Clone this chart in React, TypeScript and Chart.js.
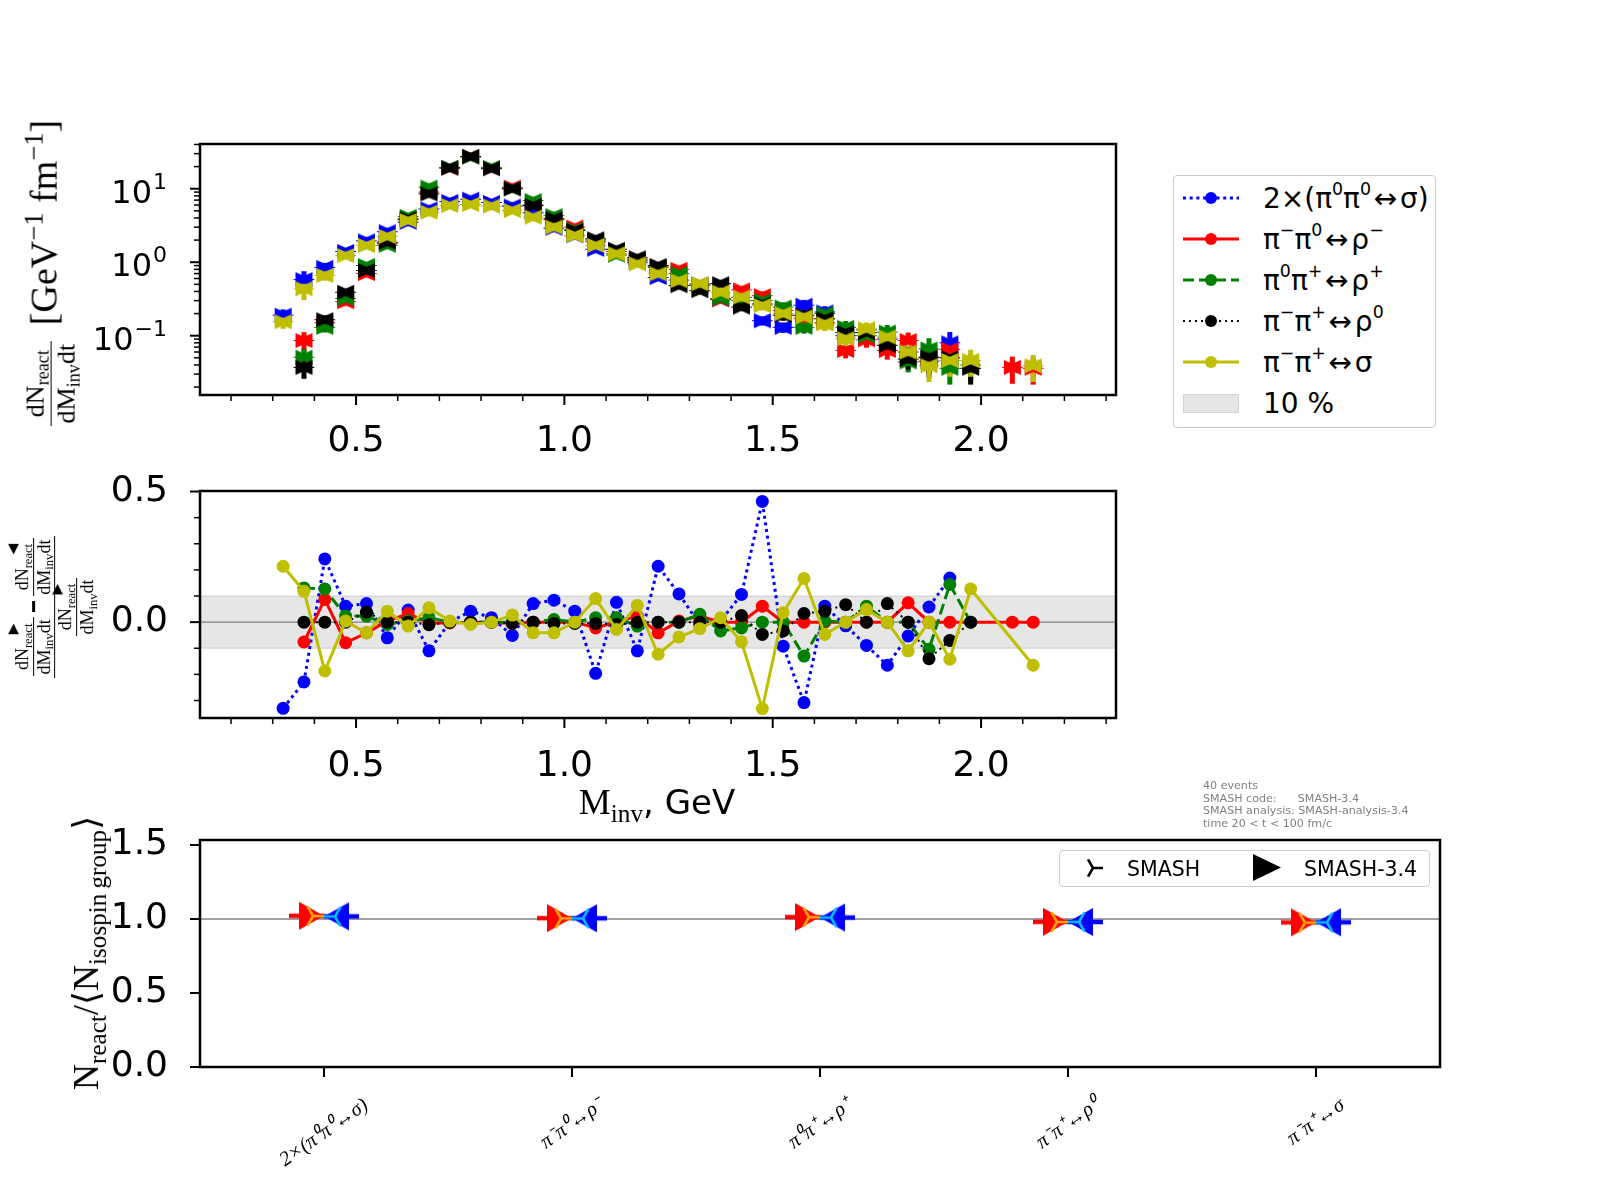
import React, { useEffect, useRef } from 'react';
import { Chart, registerables } from 'chart.js';

Chart.register(...registerables);

// invariant mass bin centres [GeV]
const massBins = [
  0.325, 0.375, 0.425, 0.475, 0.525, 0.575, 0.625, 0.675, 0.725, 0.775,
  0.825, 0.875, 0.925, 0.975, 1.025, 1.075, 1.125, 1.175, 1.225, 1.275,
  1.325, 1.375, 1.425, 1.475, 1.525, 1.575, 1.625, 1.675, 1.725, 1.775,
  1.825, 1.875, 1.925, 1.975, 2.025, 2.075, 2.125,
];
const binHalfWidth = 0.025;

const reactionNames = ['2×(π^0π^0↔σ)', 'π^−π^0↔ρ^−', 'π^0π^+↔ρ^+', 'π^−π^+↔ρ^0', 'π^−π^+↔σ'];

// dN/dM dt per reaction
const rateSigma00 = [0.19, 0.58, 0.85, 1.4, 1.95, 2.6, 3.5, 5.3, 6.7, 7.2, 6.5, 5.8, 4.7, 2.9, 2.3, 1.5, 1.3, 1.0, 0.62, 0.57, 0.5, 0.31, 0.33, 0.16, 0.13, 0.26, 0.21, 0.1, 0.12, 0.09, 0.06, 0.045, 0.08, null, null, null, null];
const rateRhoMinus = [null, 0.086, 0.15, 0.29, 0.7, 1.8, 3.8, 9.0, 19, 27.5, 19, 10.5, 6.0, 3.8, 3.0, 1.9, 1.4, 1.1, 0.88, 0.8, 0.5, 0.31, 0.42, 0.35, 0.22, 0.17, 0.15, 0.063, 0.088, 0.063, 0.086, 0.05, 0.065, null, null, 0.037, 0.036];
const rateRhoPlus = [null, 0.051, 0.13, 0.32, 0.9, 1.7, 4.2, 10.5, 19.5, 27, 19.5, 10, 6.9, 4.3, 2.8, 2.0, 1.25, 1.05, 0.85, 0.7, 0.48, 0.32, 0.3, 0.3, 0.245, 0.13, 0.2, 0.13, 0.1, 0.112, 0.044, 0.066, 0.036, 0.04, null, null, null];
const rateRho0 = [null, 0.037, 0.165, 0.39, 0.77, 1.87, 3.9, 8.5, 19.2, 27.4, 18.7, 10, 5.9, 3.9, 2.7, 2.08, 1.5, 1.15, 0.9, 0.48, 0.41, 0.51, 0.245, 0.27, 0.19, 0.19, 0.17, 0.11, 0.11, 0.074, 0.048, 0.051, 0.05, 0.036, null, null, null];
const rateSigmaPm = [0.155, 0.435, 0.66, 1.23, 1.69, 2.24, 3.69, 4.79, 5.9, 6.1, 5.8, 5.05, 4.1, 3.0, 2.31, 1.69, 1.3, 0.95, 0.695, 0.56, 0.51, 0.39, 0.335, 0.257, 0.2, 0.18, 0.145, 0.091, 0.124, 0.096, 0.06, 0.039, 0.046, 0.046, null, null, 0.039];
const rateRelErr = [0.2, 0.3, 0.15, 0.1, 0.07, 0.05, 0.04, 0.04, 0.03, 0.03, 0.03, 0.04, 0.04, 0.04, 0.04, 0.05, 0.05, 0.05, 0.06, 0.06, 0.07, 0.08, 0.1, 0.14, 0.16, 0.18, 0.2, 0.22, 0.22, 0.25, 0.28, 0.4, 0.4, 0.4, 0.4, 0.4, 0.4];

// (forward - backward) / forward
const asymSigma00 = [-0.33, -0.229, 0.242, 0.061, 0.071, -0.06, 0.046, -0.11, 0.0, 0.042, 0.017, -0.051, 0.071, 0.084, 0.042, -0.196, 0.076, -0.11, 0.214, 0.108, -0.01, 0.005, 0.106, 0.462, -0.092, -0.308, 0.061, -0.014, -0.089, -0.165, -0.053, 0.058, 0.169, null, null, null, null];
const asymRhoMinus = [null, -0.076, 0.087, -0.079, -0.041, 0.004, 0.033, -0.003, -0.003, 0, 0, -0.005, 0, 0, 0, -0.022, 0, 0.023, -0.041, 0.004, 0.023, 0, 0, 0.061, 0, 0, 0, 0, 0, 0, 0.074, 0, 0, null, null, 0, 0];
const asymRhoPlus = [null, 0.131, 0.127, 0.023, 0.023, -0.009, 0.004, 0.017, 0, 0, 0, 0, 0, 0.01, 0, 0.017, 0.017, -0.015, 0, 0, 0.03, -0.034, -0.022, 0, 0, -0.13, 0.004, 0, 0.061, 0, 0, -0.104, 0.144, 0, null, null, null];
const asymRho0 = [null, 0, 0, 0, 0.038, 0, 0, -0.01, 0, 0, 0, -0.005, 0, -0.005, -0.005, -0.005, -0.009, 0, 0, 0, 0, 0, 0.025, -0.047, -0.034, 0.033, 0.042, 0.067, 0, 0.071, 0, -0.14, -0.07, 0, null, null, null];
const asymSigmaPm = [0.214, 0.118, -0.187, 0.004, -0.041, 0.042, -0.015, 0.055, 0.004, -0.009, 0, 0.027, -0.041, -0.041, 0, 0.09, -0.028, 0.064, -0.123, -0.057, -0.025, 0.017, -0.075, -0.331, 0.036, 0.167, -0.047, 0, 0.048, 0, -0.11, 0, -0.142, 0.127, null, null, -0.165];
const bandHalfWidth = 0.1;

// N_react / <N_isospin group>
const yieldFwd34 = [1.022, 1.006, 1.013, 0.981, 0.977];
const yieldBwd34 = [1.018, 1.005, 1.01, 0.98, 0.978];
const yieldFwdSmash = [1.02, 1.004, 1.012, 0.98, 0.976];
const yieldBwdSmash = [1.017, 1.004, 1.01, 0.981, 0.977];
const yieldRef = 1.0;

// ticks
const massTicks = [0.2, 0.3, 0.4, 0.5, 0.6, 0.7, 0.8, 0.9, 1.0, 1.1, 1.2, 1.3, 1.4, 1.5, 1.6, 1.7, 1.8, 1.9, 2.0, 2.1, 2.2, 2.3];
const massLabels = [0.5, 1.0, 1.5, 2.0];
const rateTicks = [0.02, 0.03, 0.04, 0.05, 0.06, 0.07, 0.08, 0.09, 0.1, 0.2, 0.3, 0.4, 0.5, 0.6, 0.7, 0.8, 0.9, 1, 2, 3, 4, 5, 6, 7, 8, 9, 10, 20, 30, 40];
const rateLabels = [0.1, 1, 10];
const asymTicks = [-0.3, -0.2, -0.1, 0.0, 0.1, 0.2, 0.3, 0.4, 0.5];
const asymLabels = [0.0, 0.5];
const yieldTicks = [0.0, 0.5, 1.0, 1.5];
const reactionTicks = [0, 1, 2, 3, 4];

const infoLines = ['40 events', 'SMASH code:      SMASH-3.4', 'SMASH analysis: SMASH-analysis-3.4', 'time 20 < t < 100 fm/c'];

const rates = [rateSigma00, rateRhoMinus, rateRhoPlus, rateRho0, rateSigmaPm];
const asyms = [asymSigma00, asymRhoMinus, asymRhoPlus, asymRho0, asymSigmaPm];

const seriesStyle = [
  { color: '#0000ff', width: 3, dash: [3, 3.7] },
  { color: '#ff0000', width: 3, dash: [] as number[] },
  { color: '#008000', width: 3, dash: [11, 5] },
  { color: '#000000', width: 2, dash: [2, 4] },
  { color: '#bfbf00', width: 3, dash: [] as number[] },
];

const SANS = '"DejaVu Sans", sans-serif';
const SERIF = '"Liberation Serif", "DejaVu Serif", serif';

const toUnicode = (s: string) => s.replace(/\^0/g, '⁰').replace(/\^−/g, '⁻').replace(/\^\+/g, '⁺');

// ---------- marker images ----------
// full triangle centred on the point
function triangleImage(color: string, pointsRight: boolean, w: number, h: number) {
  const c = document.createElement('canvas');
  c.width = Math.ceil(w) + 2;
  c.height = Math.ceil(h) + 2;
  const g = c.getContext('2d')!;
  const cx = c.width / 2;
  const cy = c.height / 2;
  const d = pointsRight ? 1 : -1;
  g.fillStyle = color;
  g.beginPath();
  g.moveTo(cx + (d * w) / 2, cy);
  g.lineTo(cx - (d * w) / 2, cy - h / 2);
  g.lineTo(cx - (d * w) / 2, cy + h / 2);
  g.closePath();
  g.fill();
  return c;
}

// triangle whose tip sits on the point, with a bar behind it
function caretImage(color: string, pointsRight: boolean, halfW: number, h: number, bar = 0, barW = 0) {
  const reach = Math.ceil(Math.max(halfW, bar)) + 1;
  const hh = Math.ceil(h / 2) + 1;
  const c = document.createElement('canvas');
  c.width = reach * 2;
  c.height = hh * 2;
  const g = c.getContext('2d')!;
  const cx = reach;
  const cy = hh;
  const dir = pointsRight ? -1 : 1;
  g.fillStyle = color;
  if (bar > 0) g.fillRect(pointsRight ? cx - bar : cx, cy - barW / 2, bar, barW);
  g.beginPath();
  g.moveTo(cx, cy);
  g.lineTo(cx + dir * halfW, cy - h / 2);
  g.lineTo(cx + dir * halfW, cy + h / 2);
  g.closePath();
  g.fill();
  return c;
}

function triImage(color: string, stemRight: boolean, offset: number, arm: number, lw: number) {
  const half = Math.ceil(offset + arm) + 2;
  const c = document.createElement('canvas');
  c.width = half * 2;
  c.height = half * 2;
  const g = c.getContext('2d')!;
  const tx = half + (stemRight ? -offset : offset);
  const base = stemRight ? 0 : Math.PI;
  g.strokeStyle = color;
  g.lineWidth = lw;
  g.beginPath();
  for (let k = 0; k < 3; k++) {
    const a = base + (k * 2 * Math.PI) / 3;
    g.moveTo(tx, half);
    g.lineTo(tx + arm * Math.cos(a), half + arm * Math.sin(a));
  }
  g.stroke();
  return c;
}

// ---------- shared plugins ----------
const framePlugin = {
  id: 'frame',
  afterDraw(chart: any) {
    const { ctx, chartArea: a } = chart;
    ctx.save();
    ctx.strokeStyle = '#000';
    ctx.lineWidth = 2.5;
    ctx.strokeRect(a.left, a.top, a.right - a.left, a.bottom - a.top);
    ctx.restore();
  },
};

const tickMarkPlugin = {
  id: 'tickMarks',
  afterDraw(chart: any) {
    const { ctx, chartArea: a } = chart;
    ctx.save();
    ctx.strokeStyle = '#000';
    ['x', 'y'].forEach((id) => {
      const sc = chart.scales[id];
      sc.ticks.forEach((t: any) => {
        const p = sc.getPixelForValue(t.value);
        const len = t.major ? 10 : 6;
        ctx.lineWidth = t.major ? 2 : 1.5;
        ctx.beginPath();
        if (id === 'x') {
          ctx.moveTo(p, a.bottom);
          ctx.lineTo(p, a.bottom + len);
        } else {
          ctx.moveTo(a.left, p);
          ctx.lineTo(a.left - len, p);
        }
        ctx.stroke();
      });
    });
    ctx.restore();
  },
};

const yLabelPlugin = (values: number[]) => ({
  id: 'yLabels',
  afterDraw(chart: any) {
    const { ctx, chartArea: a } = chart;
    const y = chart.scales.y;
    ctx.save();
    ctx.font = '36px "DejaVu Sans"';
    ctx.fillStyle = '#000';
    ctx.textAlign = 'right';
    ctx.textBaseline = 'middle';
    values.forEach((v) => ctx.fillText(v.toFixed(1), a.left - 32, y.getPixelForValue(v)));
    ctx.restore();
  },
});

const setTicks = (values: number[], majors: number[]) => (scale: any) => {
  scale.ticks = values.map((v) => ({ value: v, major: majors.includes(v) }));
};

const baseAxis = {
  grid: { display: false, drawTicks: true, tickLength: 10 },
  border: { display: false },
};

const tickFont = { family: 'DejaVu Sans', size: 36 };

// ---------- top: spectra ----------
function buildSpectrum(canvas: HTMLCanvasElement) {
  const datasets: any[] = [];
  rates.forEach((vals, s) => {
    const col = seriesStyle[s].color;
    [triangleImage(col, true, 17, 15), triangleImage(col, false, 17, 15)].forEach((img) => {
      datasets.push({
        data: massBins.map((m, i) => ({ x: m, y: vals[i] })),
        pointStyle: img,
        pointRadius: 8,
        pointHoverRadius: 8,
        order: 4 - s,
      });
    });
  });

  const errorBars = {
    id: 'rateErrors',
    beforeDatasetsDraw(chart: any) {
      const { ctx, chartArea: a } = chart;
      const x = chart.scales.x;
      const y = chart.scales.y;
      ctx.save();
      ctx.beginPath();
      ctx.rect(a.left, a.top, a.right - a.left, a.bottom - a.top);
      ctx.clip();
      rates.forEach((vals, s) => {
        ctx.strokeStyle = seriesStyle[s].color;
        vals.forEach((v, i) => {
          if (v == null) return;
          const px = x.getPixelForValue(massBins[i]);
          const py = y.getPixelForValue(v);
          const e = v * rateRelErr[i];
          ctx.lineWidth = 5;
          ctx.beginPath();
          ctx.moveTo(px, y.getPixelForValue(v + e));
          ctx.lineTo(px, y.getPixelForValue(v - e));
          ctx.stroke();
          ctx.lineWidth = 1;
          ctx.beginPath();
          ctx.moveTo(x.getPixelForValue(massBins[i] - binHalfWidth), py);
          ctx.lineTo(x.getPixelForValue(massBins[i] + binHalfWidth), py);
          ctx.stroke();
        });
      });
      ctx.restore();
    },
  };

  const logLabels = {
    id: 'logLabels',
    afterDraw(chart: any) {
      const { ctx, chartArea: a } = chart;
      const y = chart.scales.y;
      ctx.save();
      ctx.fillStyle = '#000';
      ctx.textAlign = 'left';
      ctx.textBaseline = 'alphabetic';
      rateLabels.forEach((v) => {
        const e = Math.round(Math.log10(v));
        const expText = e < 0 ? '\u2212' + Math.abs(e) : String(e);
        const py = y.getPixelForValue(v);
        const right = a.left - 33;
        ctx.font = '22px "DejaVu Sans"';
        const we = ctx.measureText(expText).width;
        ctx.font = '32px "DejaVu Sans"';
        const wb = ctx.measureText('10').width;
        ctx.fillText('10', right - we - 1 - wb, py + 14);
        ctx.font = '22px "DejaVu Sans"';
        ctx.fillText(expText, right - we, py);
      });
      ctx.restore();
    },
  };

  return new Chart(canvas, {
    type: 'scatter',
    data: { datasets },
    options: {
      animation: false,
      responsive: false,
      events: [],
      layout: { padding: { left: 0, top: 44, right: 14, bottom: 0 }, autoPadding: false },
      plugins: { legend: { display: false }, tooltip: { enabled: false } },
      scales: {
        x: {
          ...baseAxis,
          type: 'linear',
          min: 0.1255,
          max: 2.3238,
          afterBuildTicks: setTicks(massTicks, massLabels),
          afterFit: (s: any) => { s.height = 65; },
          ticks: {
            autoSkip: false, maxRotation: 0, minRotation: 0, padding: 15, color: '#000', font: tickFont,
            callback: (v: any) => (massLabels.includes(v) ? Number(v).toFixed(1) : ''),
          },
        },
        y: {
          ...baseAxis,
          type: 'logarithmic',
          min: 0.0156,
          max: 40.6,
          afterBuildTicks: setTicks(rateTicks, rateLabels),
          afterFit: (s: any) => { s.width = 200; },
          ticks: { display: false },
        },
      },
    } as any,
    plugins: [errorBars, framePlugin, tickMarkPlugin, logLabels],
  });
}

// ---------- middle: relative difference ----------
function buildAsym(canvas: HTMLCanvasElement) {
  const datasets = asyms.map((vals, s) => {
    const st = seriesStyle[s];
    return {
      data: massBins.map((m, i) => ({ x: m, y: vals[i] })),
      borderColor: st.color,
      backgroundColor: st.color,
      borderWidth: st.width,
      borderDash: st.dash,
      pointRadius: 6.5,
      pointHoverRadius: 6.5,
      pointBackgroundColor: st.color,
      pointBorderWidth: 0,
      spanGaps: true,
      tension: 0,
      fill: false,
      order: 4 - s,
    };
  });

  const band = {
    id: 'band',
    beforeDatasetsDraw(chart: any) {
      const { ctx, chartArea: a } = chart;
      const y = chart.scales.y;
      const top = y.getPixelForValue(bandHalfWidth);
      const bot = y.getPixelForValue(-bandHalfWidth);
      ctx.save();
      ctx.fillStyle = 'rgba(128,128,128,0.2)';
      ctx.fillRect(a.left, top, a.right - a.left, bot - top);
      ctx.strokeStyle = 'rgba(128,128,128,0.2)';
      ctx.lineWidth = 1.5;
      ctx.strokeRect(a.left, top, a.right - a.left, bot - top);
      const z = y.getPixelForValue(0);
      ctx.strokeStyle = '#808080';
      ctx.lineWidth = 1.2;
      ctx.beginPath();
      ctx.moveTo(a.left, z);
      ctx.lineTo(a.right, z);
      ctx.stroke();
      ctx.restore();
    },
  };

  return new Chart(canvas, {
    type: 'line',
    data: { datasets },
    options: {
      animation: false,
      responsive: false,
      events: [],
      layout: { padding: { left: 0, top: 31, right: 14, bottom: 0 }, autoPadding: false },
      plugins: { legend: { display: false }, tooltip: { enabled: false } },
      scales: {
        x: {
          ...baseAxis,
          type: 'linear',
          min: 0.1255,
          max: 2.3238,
          afterBuildTicks: setTicks(massTicks, massLabels),
          afterFit: (s: any) => { s.height = 82; },
          ticks: {
            autoSkip: false, maxRotation: 0, minRotation: 0, padding: 17, color: '#000', font: tickFont,
            callback: (v: any) => (massLabels.includes(v) ? Number(v).toFixed(1) : ''),
          },
        },
        y: {
          ...baseAxis,
          type: 'linear',
          min: -0.367,
          max: 0.502,
          afterBuildTicks: setTicks(asymTicks, asymLabels),
          afterFit: (s: any) => { s.width = 200; },
          ticks: { display: false },
        },
      },
    } as any,
    plugins: [band, framePlugin, tickMarkPlugin, yLabelPlugin(asymLabels)],
  });
}

// ---------- bottom: yields per reaction ----------
function buildYield(canvas: HTMLCanvasElement) {
  const pts = (vals: number[]) => vals.map((v, i) => ({ x: reactionTicks[i], y: v }));
  const datasets = [
    { data: pts(yieldFwdSmash), pointStyle: triImage('#ffa500', true, 11, 11, 2.6), order: 0 },
    { data: pts(yieldBwdSmash), pointStyle: triImage('#00bfff', false, 11, 11, 2.6), order: 1 },
    { data: pts(yieldFwd34), pointStyle: caretImage('#ff0000', true, 25, 28, 35, 4.5), order: 2 },
    { data: pts(yieldBwd34), pointStyle: caretImage('#0000ff', false, 25, 28, 35, 4.5), order: 3 },
  ].map((d) => ({ ...d, pointRadius: 10, pointHoverRadius: 10 }));

  const refLine = {
    id: 'refLine',
    beforeDatasetsDraw(chart: any) {
      const { ctx, chartArea: a } = chart;
      const p = chart.scales.y.getPixelForValue(yieldRef);
      ctx.save();
      ctx.strokeStyle = '#808080';
      ctx.lineWidth = 1.5;
      ctx.beginPath();
      ctx.moveTo(a.left, p);
      ctx.lineTo(a.right, p);
      ctx.stroke();
      ctx.restore();
    },
  };

  const rotatedLabels = {
    id: 'rotatedLabels',
    afterDraw(chart: any) {
      const { ctx, chartArea: a } = chart;
      const x = chart.scales.x;
      const theta = (35 * Math.PI) / 180;
      const size = 20.5;
      ctx.save();
      ctx.font = `italic ${size}px "Liberation Serif"`;
      ctx.fillStyle = '#000';
      ctx.textAlign = 'center';
      ctx.textBaseline = 'middle';
      reactionNames.forEach((name, i) => {
        const label = toUnicode(name);
        const L = ctx.measureText(label).width;
        const bh = L * Math.sin(theta) + size * Math.cos(theta);
        ctx.save();
        ctx.translate(x.getPixelForValue(reactionTicks[i]), a.bottom + 28 + bh / 2);
        ctx.rotate(-theta);
        ctx.fillText(label, 0, 0);
        ctx.restore();
      });
      ctx.restore();
    },
  };

  return new Chart(canvas, {
    type: 'scatter',
    data: { datasets },
    options: {
      animation: false,
      responsive: false,
      events: [],
      layout: { padding: { left: 0, top: 40, right: 20, bottom: 0 }, autoPadding: false },
      plugins: { legend: { display: false }, tooltip: { enabled: false } },
      scales: {
        x: {
          ...baseAxis,
          type: 'linear',
          min: -0.5,
          max: 4.5,
          afterBuildTicks: setTicks(reactionTicks, reactionTicks),
          afterFit: (s: any) => { s.height = 133; },
          ticks: { display: false },
        },
        y: {
          ...baseAxis,
          type: 'linear',
          min: 0,
          max: 1.534,
          afterBuildTicks: setTicks(yieldTicks, yieldTicks),
          afterFit: (s: any) => { s.width = 200; },
          ticks: { display: false },
        },
      },
    } as any,
    plugins: [refLine, framePlugin, tickMarkPlugin, rotatedLabels, yLabelPlugin(yieldTicks)],
  });
}

// ---------- text helpers ----------
const Sub = ({ children }: any) => (
  <span style={{ fontSize: '0.7em', position: 'relative', top: '0.3em' }}>{children}</span>
);
const Sup = ({ children }: any) => (
  <span style={{ fontSize: '0.7em', position: 'relative', top: '-0.55em' }}>{children}</span>
);

function MathText({ text }: { text: string }) {
  const parts: React.ReactNode[] = [];
  let buf = '';
  for (let i = 0; i < text.length; i++) {
    if (text[i] === '^' && i + 1 < text.length) {
      if (buf) parts.push(buf);
      buf = '';
      parts.push(
        <span key={i} style={{ fontSize: '0.62em', position: 'relative', top: '-0.7em' }}>{text[i + 1]}</span>
      );
      i++;
    } else if (text[i] === '↔') {
      buf += '\u200A↔\u200A';
    } else {
      buf += text[i];
    }
  }
  if (buf) parts.push(buf);
  return <>{parts}</>;
}

const Frac = ({ num, den, size, bar = 1.5 }: any) => (
  <span style={{ display: 'inline-flex', flexDirection: 'column', alignItems: 'center', fontSize: size, lineHeight: 1.15 }}>
    <span style={{ padding: '0 0.1em', whiteSpace: 'nowrap' }}>{num}</span>
    <span style={{ alignSelf: 'stretch', borderTop: `${bar}px solid #000` }} />
    <span style={{ padding: '0 0.1em', whiteSpace: 'nowrap' }}>{den}</span>
  </span>
);

const Marked = ({ mark }: { mark: string }) => (
  <>
    dN
    <span style={{ fontSize: '0.7em', position: 'relative', top: '0.3em' }}>
      react
      <span style={{ position: 'absolute', right: 0, top: '-1.05em', fontSize: '1.1em', lineHeight: 1, fontFamily: SANS }}>{mark}</span>
    </span>
  </>
);

const DM = () => <>dM<Sub>inv</Sub>dt</>;

const Rotated = ({ cx, cy, children, style }: any) => (
  <div
    style={{
      position: 'absolute', left: cx, top: cy, transform: 'translate(-50%, -50%) rotate(-90deg)',
      whiteSpace: 'nowrap', display: 'flex', alignItems: 'center', color: '#000', ...style,
    }}
  >
    {children}
  </div>
);

const LegendHandle = ({ s }: { s: number }) => {
  const st = seriesStyle[s];
  return (
    <svg width={56} height={20} style={{ display: 'block' }}>
      <line x1={0} y1={10} x2={56} y2={10} stroke={st.color} strokeWidth={st.width} strokeDasharray={st.dash.length ? st.dash.join(' ') : undefined} />
      <circle cx={28} cy={10} r={6} fill={st.color} />
    </svg>
  );
};

export default function App() {
  const topRef = useRef<HTMLCanvasElement | null>(null);
  const midRef = useRef<HTMLCanvasElement | null>(null);
  const botRef = useRef<HTMLCanvasElement | null>(null);

  useEffect(() => {
    const charts = [
      buildSpectrum(topRef.current!),
      buildAsym(midRef.current!),
      buildYield(botRef.current!),
    ];
    return () => charts.forEach((c) => c.destroy());
  }, []);

  return (
    <div style={{ position: 'absolute', left: 0, top: 0, width: 1600, height: 1200, background: '#fff', overflow: 'hidden' }}>
      <canvas ref={topRef} width={1130} height={360} style={{ position: 'absolute', left: 0, top: 100 }} />
      <canvas ref={midRef} width={1130} height={340} style={{ position: 'absolute', left: 0, top: 460 }} />
      <canvas ref={botRef} width={1460} height={400} style={{ position: 'absolute', left: 0, top: 800 }} />

      {/* axis titles */}
      <Rotated cx={44} cy={273} style={{ fontFamily: SERIF }}>
        <span style={{ position: 'relative', top: 7 }}>
          <Frac size={26} num={<>dN<Sub>react</Sub></>} den={<DM />} />
        </span>
        <span style={{ fontSize: 38, marginLeft: 16 }}>
          [GeV<Sup>−1</Sup>&nbsp;fm<Sup>−1</Sup>]
        </span>
      </Rotated>

      <Rotated cx={55} cy={607} style={{ fontFamily: SERIF, fontSize: 18 }}>
        <Frac
          bar={1.8}
          num={
            <span style={{ display: 'inline-flex', alignItems: 'center' }}>
              <Frac num={<Marked mark="▶" />} den={<DM />} />
              <span style={{ display: 'inline-block', width: 11, height: 3, background: '#000', margin: '0 5px' }} />
              <Frac num={<Marked mark="◀" />} den={<DM />} />
            </span>
          }
          den={<Frac num={<Marked mark="▶" />} den={<DM />} />}
        />
      </Rotated>

      <Rotated cx={86} cy={953} style={{ fontFamily: SERIF, fontSize: 36 }}>
        <span>
          N<Sub>react</Sub>/⟨N<Sub>isospin&thinsp;group</Sub>⟩
        </span>
      </Rotated>

      <div style={{ position: 'absolute', left: 657, top: 802, transform: 'translate(-50%, -50%)', whiteSpace: 'nowrap', color: '#000' }}>
        <span style={{ fontFamily: SERIF, fontSize: 36 }}>M<Sub>inv</Sub></span>
        <span style={{ fontFamily: SANS, fontSize: 34 }}>, GeV</span>
      </div>

      {/* legend of the upper panels */}
      <div style={{ position: 'absolute', left: 1173, top: 175, width: 263, height: 253, border: '1px solid #cccccc', borderRadius: 4, boxSizing: 'border-box', background: 'rgba(255,255,255,0.8)' }}>
        {reactionNames.map((name, s) => (
          <div key={name} style={{ position: 'absolute', left: 9, top: 2 + 41 * s, height: 40, display: 'flex', alignItems: 'center' }}>
            <LegendHandle s={s} />
            <span style={{ marginLeft: 24, fontFamily: SANS, fontSize: 28, whiteSpace: 'nowrap', color: '#000' }}>
              <MathText text={name} />
            </span>
          </div>
        ))}
        <div style={{ position: 'absolute', left: 9, top: 2 + 41 * 5, height: 40, display: 'flex', alignItems: 'center' }}>
          <span style={{ display: 'block', width: 56, height: 19, background: '#e5e5e5', border: '1px solid #d4d4d4', boxSizing: 'border-box' }} />
          <span style={{ marginLeft: 24, fontFamily: SANS, fontSize: 28, color: '#000' }}>10 %</span>
        </div>
      </div>

      {/* run info */}
      <div style={{ position: 'absolute', left: 1203, top: 780, fontFamily: SANS, fontSize: 11.1, lineHeight: '12.7px', color: '#808080', whiteSpace: 'pre' }}>
        {infoLines.map((l) => <div key={l}>{l}</div>)}
      </div>

      {/* legend of the yield panel */}
      <div style={{ position: 'absolute', left: 1059, top: 850, width: 371, height: 37, border: '1px solid #cccccc', borderRadius: 4, boxSizing: 'border-box', background: 'rgba(255,255,255,0.8)' }}>
        <svg width={24} height={24} style={{ position: 'absolute', left: 21, top: 5 }}>
          <path d="M12 12 L22 12 M12 12 L7 3.34 M12 12 L7 20.66" stroke="#000" strokeWidth={2.6} fill="none" />
        </svg>
        <span style={{ position: 'absolute', left: 67, top: 0, height: 35, display: 'flex', alignItems: 'center', fontFamily: SANS, fontSize: 20.5, color: '#000' }}>SMASH</span>
        <svg width={28} height={27} style={{ position: 'absolute', left: 193, top: 3 }}>
          <polygon points="0,0 28,13.5 0,27" fill="#000" />
        </svg>
        <span style={{ position: 'absolute', left: 244, top: 0, height: 35, display: 'flex', alignItems: 'center', fontFamily: SANS, fontSize: 20.5, color: '#000' }}>SMASH-3.4</span>
      </div>
    </div>
  );
}
